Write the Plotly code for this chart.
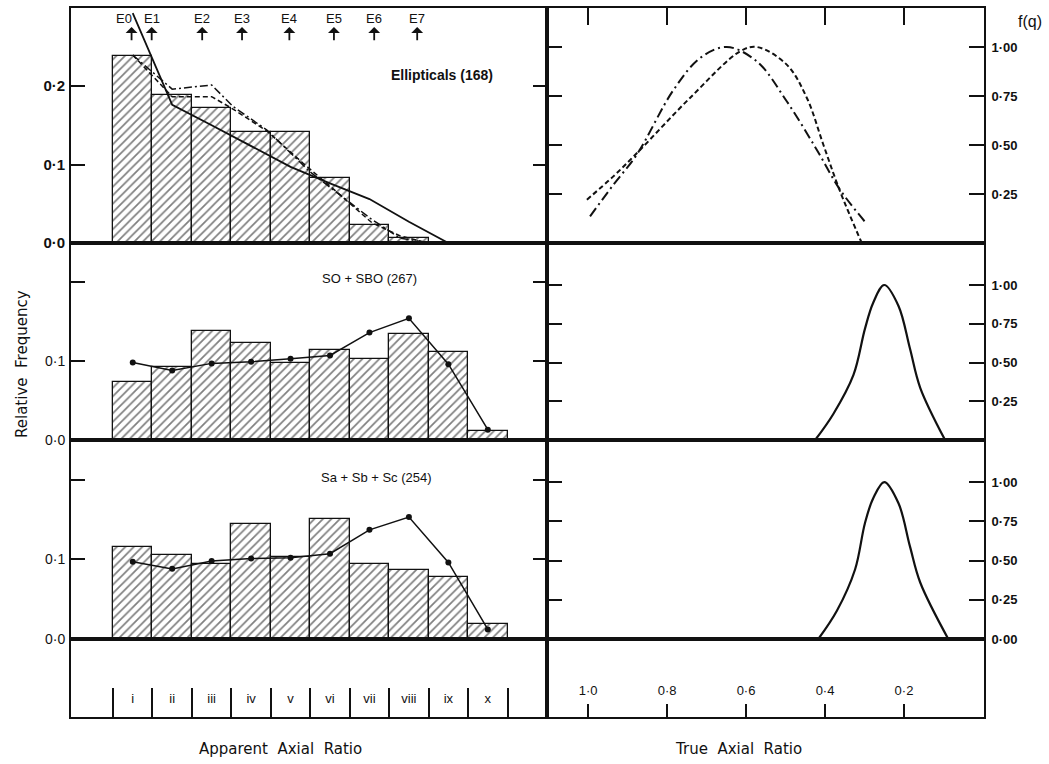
import plotly.graph_objects as go

W, H = 1049, 764

# ---------------- data ----------------
bins = ["i", "ii", "iii", "iv", "v", "vi", "vii", "viii", "ix", "x"]
bin_centers = list(range(1, len(bins) + 1))
bin_edges = [c - 0.5 for c in bin_centers] + [bin_centers[-1] + 0.5]

ell_freq = [0.238, 0.189, 0.172, 0.142, 0.142, 0.083, 0.023, 0.006, 0.0, 0.0]
s0_freq = [0.073, 0.093, 0.138, 0.123, 0.097, 0.114, 0.103, 0.134, 0.111, 0.012]
sp_freq = [0.115, 0.105, 0.094, 0.144, 0.103, 0.150, 0.094, 0.087, 0.078, 0.019]

s0_model = [0.098, 0.088, 0.097, 0.099, 0.103, 0.107, 0.136, 0.154, 0.096, 0.013]
sp_model = [0.097, 0.088, 0.098, 0.101, 0.102, 0.107, 0.137, 0.153, 0.096, 0.012]

ell_solid_x = [1, 2, 3, 4, 5, 6, 7, 8, 9]
ell_solid_y = [0.293, 0.176, 0.150, 0.124, 0.097, 0.076, 0.056, 0.027, 0.0]
ell_dashdot_x = [1, 2, 3, 3.55, 4.40, 5.49, 7.02, 7.78, 8.3]
ell_dashdot_y = [0.2395, 0.196, 0.2013, 0.1736, 0.144, 0.0908, 0.0315, 0.006, 0.002]
ell_dash_x = [1, 2, 3, 3.51, 4.40, 5.32, 5.92, 6.51, 7.07, 7.78, 8.41]
ell_dash_y = [0.2395, 0.1864, 0.1864, 0.1716, 0.1427, 0.1015, 0.076, 0.0506, 0.0255, 0.009, 0.001]

e_types = ["E0", "E1", "E2", "E3", "E4", "E5", "E6", "E7"]
e_pos = [0.97, 1.48, 2.76, 3.77, 4.97, 6.10, 7.12, 8.21]

# true axial ratio distributions f(q)
ell_fq_dashdot_q = [0.995, 0.936, 0.877, 0.784, 0.716, 0.649, 0.573, 0.497, 0.421, 0.362, 0.30]
ell_fq_dashdot_f = [0.136, 0.297, 0.45, 0.78, 0.944, 1.0, 0.927, 0.723, 0.476, 0.272, 0.111]
ell_fq_dash_q = [1.003, 0.936, 0.868, 0.742, 0.615, 0.573, 0.497, 0.446, 0.404, 0.362, 0.307]
ell_fq_dash_f = [0.221, 0.34, 0.476, 0.74, 0.978, 1.0, 0.91, 0.74, 0.50, 0.264, 0.0]

s0_fq_q = [0.425, 0.379, 0.328, 0.299, 0.278, 0.250, 0.214, 0.185, 0.159, 0.096]
s0_fq_f = [0.0, 0.168, 0.42, 0.717, 0.886, 1.0, 0.865, 0.59, 0.337, 0.0]
sp_fq_q = [0.417, 0.370, 0.324, 0.299, 0.278, 0.250, 0.214, 0.185, 0.159, 0.088]
sp_fq_f = [0.0, 0.18, 0.443, 0.738, 0.897, 1.0, 0.865, 0.59, 0.36, 0.0]

q_ticks = [1.0, 0.8, 0.6, 0.4, 0.2]
q_labels = ["1·0", "0·8", "0·6", "0·4", "0·2"]
fq_ticks = [0.0, 0.25, 0.5, 0.75, 1.0]
fq_labels = ["0·00", "0·25", "0·50", "0·75", "1·00"]

# ---------------- layout geometry ----------------
def px_x(p):
    return p / W

def px_y(p):
    return 1 - p / H

XL = [px_x(71), px_x(547)]
XR = [px_x(547), px_x(984)]
ROWS = [[px_y(243), px_y(8)], [px_y(440), px_y(243)],
        [px_y(639), px_y(440)], [px_y(717), px_y(639)]]

INK = "#111111"
FONT = "Liberation Sans, Arial, sans-serif"
TFONT = "DejaVu Sans, Liberation Sans, sans-serif"

fig = go.Figure()

hatch = dict(shape="/", size=6, solidity=0.28, fgcolor="#000000", bgcolor="white")


def add_bars(vals, n):
    fig.add_trace(go.Bar(
        x=bin_centers, y=vals, width=1.0, xaxis=f"x{n}", yaxis=f"y{n}",
        marker=dict(color="white", line=dict(color=INK, width=1.3), pattern=hatch),
        showlegend=False, hoverinfo="skip"))


add_bars(ell_freq, 1)
add_bars(s0_freq, 2)
add_bars(sp_freq, 3)

fig.add_trace(go.Scatter(x=ell_solid_x, y=ell_solid_y, mode="lines", xaxis="x", yaxis="y",
                         line=dict(color=INK, width=1.8), showlegend=False))
fig.add_trace(go.Scatter(x=ell_dashdot_x, y=ell_dashdot_y, mode="lines", xaxis="x", yaxis="y",
                         line=dict(color=INK, width=1.5, dash="8px,3px,2px,3px"), showlegend=False))
fig.add_trace(go.Scatter(x=ell_dash_x, y=ell_dash_y, mode="lines", xaxis="x", yaxis="y",
                         line=dict(color=INK, width=1.5, dash="5px,3px"), showlegend=False))

for vals, n in [(s0_model, 2), (sp_model, 3)]:
    fig.add_trace(go.Scatter(x=bin_centers, y=vals, mode="lines+markers",
                             xaxis=f"x{n}", yaxis=f"y{n}",
                             line=dict(color=INK, width=1.5),
                             marker=dict(color=INK, size=6), showlegend=False))

# right panels
fig.add_trace(go.Scatter(x=ell_fq_dashdot_q, y=ell_fq_dashdot_f, mode="lines", xaxis="x5", yaxis="y5",
                         line=dict(color=INK, width=2, dash="10px,4px,2px,4px", shape="spline", smoothing=1.0),
                         showlegend=False))
fig.add_trace(go.Scatter(x=ell_fq_dash_q, y=ell_fq_dash_f, mode="lines", xaxis="x5", yaxis="y5",
                         line=dict(color=INK, width=2, dash="5px,3px", shape="spline", smoothing=1.0),
                         showlegend=False))
fig.add_trace(go.Scatter(x=s0_fq_q, y=s0_fq_f, mode="lines", xaxis="x6", yaxis="y6",
                         line=dict(color=INK, width=2.2, shape="spline", smoothing=1.0), showlegend=False))
fig.add_trace(go.Scatter(x=sp_fq_q, y=sp_fq_f, mode="lines", xaxis="x7", yaxis="y7",
                         line=dict(color=INK, width=2.2, shape="spline", smoothing=1.0), showlegend=False))

# strip labels
fig.add_trace(go.Scatter(x=bin_centers, y=[0.215] * len(bins), text=bins, mode="text",
                         xaxis="x4", yaxis="y4", textfont=dict(family=FONT, size=13, color=INK),
                         showlegend=False, hoverinfo="skip"))
fig.add_trace(go.Scatter(x=q_ticks, y=[0.32] * len(q_ticks), text=q_labels, mode="text",
                         xaxis="x8", yaxis="y8", textfont=dict(family=FONT, size=13, color=INK),
                         showlegend=False, hoverinfo="skip"))

# ---------------- axes ----------------
LX_RANGE = [-0.565, 11.50]
RX_RANGE = [1.104, -0.0025]
LW = 1.8
frame = dict(showline=True, linecolor=INK, linewidth=LW, mirror=True, showgrid=False,
             zeroline=False, fixedrange=True, automargin=False)

lay = dict(
    width=W, height=H, margin=dict(l=0, r=0, t=0, b=0, pad=0, autoexpand=False),
    paper_bgcolor="white", plot_bgcolor="white", showlegend=False, bargap=0,
    font=dict(family=FONT, color=INK, size=13),
)

left_y = [
    dict(range=[0, 0.2994], tickvals=[0, 0.1, 0.2], ticktext=["0·0", "0·1", "0·2"],
         tickfont=dict(size=15, weight="bold")),
    dict(range=[0, 0.2494], tickvals=[0, 0.1, 0.2], ticktext=["0·0", "0·1", ""],
         tickfont=dict(size=14)),
    dict(range=[0, 0.2497], tickvals=[0, 0.1, 0.2], ticktext=["0·0", "0·1", ""],
         tickfont=dict(size=14)),
]
right_y = [
    dict(range=[0, 1.199], tickvals=fq_ticks[1:], ticktext=fq_labels[1:]),
    dict(range=[0, 1.271], tickvals=fq_ticks[1:], ticktext=fq_labels[1:]),
    dict(range=[0, 1.268], tickvals=fq_ticks, ticktext=fq_labels),
]

for i in range(3):
    n = i + 1
    key = "" if n == 1 else str(n)
    lay["xaxis" + key] = dict(frame, domain=XL, range=LX_RANGE, anchor="y" + key,
                              showticklabels=False, ticks="")
    lay["yaxis" + key] = dict(frame, domain=ROWS[i], anchor="x" + key, ticks="inside",
                              ticklen=14, tickwidth=2, tickcolor=INK, mirror="ticks",
                              ticklabelstandoff=1, **left_y[i])
    m = i + 5
    xr = dict(frame, domain=XR, range=RX_RANGE, anchor=f"y{m}", showticklabels=False)
    if i == 0:
        xr.update(side="top", ticks="inside", ticklen=17, tickwidth=2, tickcolor=INK,
                  tickvals=q_ticks)
    else:
        xr.update(ticks="")
    lay[f"xaxis{m}"] = xr
    lay[f"yaxis{m}"] = dict(frame, domain=ROWS[i], anchor=f"x{m}", side="right",
                            ticks="inside", ticklen=15, tickwidth=2, tickcolor=INK,
                            mirror="ticks", ticklabelstandoff=3,
                            tickfont=dict(size=13, weight="bold"), **right_y[i])

lay["xaxis4"] = dict(frame, domain=XL, range=LX_RANGE, anchor="y4", ticks="inside",
                     ticklen=29, tickwidth=2, tickcolor=INK, tickvals=bin_edges,
                     showticklabels=False)
lay["yaxis4"] = dict(frame, domain=ROWS[3], anchor="x4", range=[0, 1], ticks="",
                     showticklabels=False)
lay["xaxis8"] = dict(frame, domain=XR, range=RX_RANGE, anchor="y8", ticks="inside",
                     ticklen=13, tickwidth=2, tickcolor=INK, tickvals=q_ticks,
                     showticklabels=False)
lay["yaxis8"] = dict(frame, domain=ROWS[3], anchor="x8", range=[0, 1], ticks="",
                     showticklabels=False)

fig.update_layout(**lay)

# ---------------- annotations ----------------
ann = []
for lab, xp in zip(e_types, e_pos):
    ann.append(dict(x=xp, y=0.2752, ax=xp, ay=0.2565, xref="x", yref="y", axref="x", ayref="y",
                    text="", showarrow=True, arrowhead=1, arrowsize=1.1, arrowwidth=1.8,
                    arrowcolor=INK, standoff=0, startstandoff=0))
    ann.append(dict(x=xp, y=0.2866, xref="x", yref="y", text=lab, showarrow=False,
                    xanchor="center", yanchor="middle",
                    xshift=-8 if lab == "E0" else 0,
                    font=dict(family=FONT, size=13, color=INK)))


def label(x, y, text, size=14, family=FONT, **kw):
    d = dict(x=px_x(x), y=px_y(y), xref="paper", yref="paper", text=text, showarrow=False,
             xanchor="center", yanchor="middle", font=dict(family=family, size=size, color=INK))
    d.update(kw)
    return d


ann += [
    label(442, 75, "Ellipticals (168)", font=dict(family=FONT, size=14, color=INK, weight="bold")),
    label(369, 278, "SO + SBO (267)", 13),
    label(376, 477, "Sa + Sb + Sc (254)", 13),
    label(22, 364, "Relative  Frequency", 15, TFONT, textangle=-90),
    label(280, 749, "Apparent  Axial  Ratio", 15, TFONT),
    label(738, 749, "True  Axial  Ratio", 15, TFONT),
    label(1030, 22, "f(q)", 16),
]
fig.update_layout(annotations=ann)

fig.write_html("out.html", config={"displayModeBar": False},
               post_script="document.body.style.margin='0';")
